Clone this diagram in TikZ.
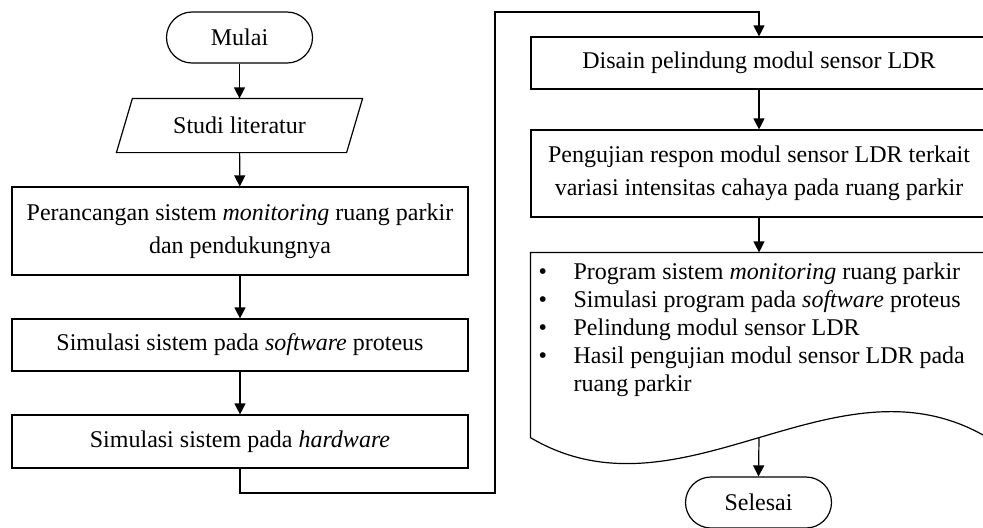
\documentclass[tikz,border=0pt]{standalone}
\usepackage{fontspec}
\setmainfont{Liberation Serif}
\usetikzlibrary{arrows.meta}
\newcommand{\mybul}{\makebox[17.5pt][l]{\textbullet}}
\begin{document}
\begin{tikzpicture}[x=0.5pt,y=-0.5pt, line width=0.6pt,
  every node/.style={font=\fontsize{12}{16.5}\selectfont},
  box/.style={draw, rectangle, minimum width=228pt, align=center, inner sep=0pt},
  term/.style={draw, rectangle, rounded corners=12.75pt, minimum width=73pt, minimum height=25.5pt, inner sep=0pt},
  arr/.style={-{Triangle[length=5.5pt,width=5.5pt]}},
  ]
\useasboundingbox (0,0) rectangle (983,527);
% left column
\node[term] (mulai) at (239.5,37.5) {Mulai};
\node[minimum width=114.5pt, minimum height=26.5pt, inner sep=0pt] (lit) at (239.5,125.5) {Studi literatur};
\draw ([xshift=4pt]lit.north west) -- ([xshift=4pt]lit.north east) -- ([xshift=-4pt]lit.south east) -- ([xshift=-4pt]lit.south west) -- cycle;
\node[box, minimum height=44pt] (b1) at (240,231) {Perancangan sistem \textit{monitoring} ruang parkir\\ dan pendukungnya};
\node[box, minimum height=26pt] (b2) at (240,345) {Simulasi sistem pada \textit{software} proteus};
\node[box, minimum height=26.5pt] (b3) at (240,441.5) {Simulasi sistem pada \textit{hardware}};
% right column
\node[box, minimum height=26pt] (d1) at (759,63) {Disain pelindung modul sensor LDR};
\node[box, minimum height=43.5pt] (d2) at (759,173.5) {Pengujian respon modul sensor LDR terkait\\ variasi intensitas cahaya pada ruang parkir};
\node[minimum width=228pt, minimum height=92pt, inner sep=0pt] (doc) at (759,345) {};
\draw (doc.south east) .. controls ([xshift=-76pt,yshift=45pt]doc.south east) and ([xshift=76pt,yshift=-45pt]doc.south west) .. (doc.south west) -- (doc.north west) -- (doc.north east) -- (doc.south east);
\node[anchor=north west, align=left, inner sep=0pt, font=\fontsize{12}{14}\selectfont] (list) at (538,262) {%
\mybul Program sistem \textit{monitoring} ruang parkir\\
\mybul Simulasi program pada \textit{software} proteus\\
\mybul Pelindung modul sensor LDR\\
\mybul Hasil pengujian modul sensor LDR pada\\
\hspace*{17.5pt}ruang parkir};
\node[term] (sel) at (758.5,502.5) {Selesai};
% connectors
\coordinate (c1) at (495,493);
\coordinate (c2) at (495,12);
\draw[arr] (mulai) -- (lit);
\draw[arr] (lit) -- (b1);
\draw[arr] (b1) -- (b2);
\draw[arr] (b2) -- (b3);
\draw[arr] (b3.south) |- (c1) -- (c2) -| (d1.north);
\draw[arr] (d1) -- (d2);
\draw[arr] (d2) -- (doc.north);
\draw[arr] (doc.south) -- (sel.north);
\end{tikzpicture}
\end{document}
